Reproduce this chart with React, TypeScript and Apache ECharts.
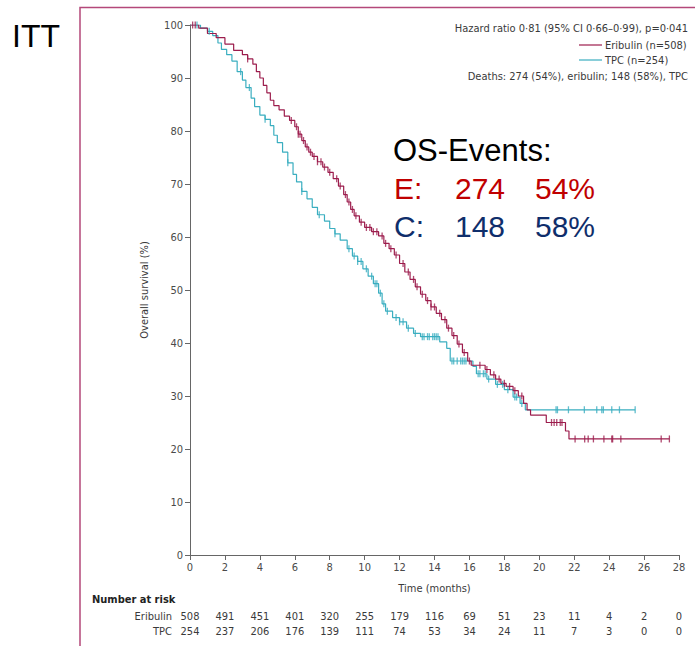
import React, { useEffect, useRef } from "react";
import * as echarts from "echarts";

// ---- Data ----
const monthTicks = [0, 2, 4, 6, 8, 10, 12, 14, 16, 18, 20, 22, 24, 26, 28];
const eribulinAtRisk = [508, 491, 451, 401, 320, 255, 179, 116, 69, 51, 23, 11, 4, 2, 0];
const tpcAtRisk = [254, 237, 206, 176, 139, 111, 74, 53, 34, 24, 11, 7, 3, 0, 0];

const eribulinTime = [0, 0.5, 1.0, 1.5, 2.0, 2.5, 3.0, 3.3, 3.6, 3.8, 4.0, 4.2, 4.4, 4.6, 4.8, 5.1, 5.4, 5.7, 6.0, 6.2, 6.4, 6.6, 6.8, 7.0, 7.3, 7.6, 7.9, 8.2, 8.5, 8.8, 9.0, 9.2, 9.4, 9.7, 10.0, 10.4, 10.8, 11.1, 11.4, 11.7, 12.0, 12.3, 12.6, 12.9, 13.2, 13.5, 13.8, 14.1, 14.4, 14.7, 15.0, 15.3, 15.6, 15.9, 16.1, 16.9, 17.2, 17.5, 17.8, 18.1, 18.5, 18.8, 19.1, 19.3, 19.5, 20.4, 21.5, 21.7, 27.45];
const eribulinSurv = [100, 99.4, 98.4, 97.6, 96.4, 95.2, 94.4, 93.6, 92.6, 91.2, 90.0, 88.6, 87.2, 85.8, 84.8, 84.0, 82.8, 82.0, 80.8, 79.4, 78.2, 77.0, 76.0, 75.2, 74.2, 73.2, 72.2, 71.0, 69.6, 68.0, 66.6, 65.2, 64.0, 62.8, 61.8, 61.0, 60.2, 58.8, 57.8, 56.6, 55.0, 53.4, 52.0, 50.6, 49.2, 48.0, 46.8, 45.6, 44.4, 42.8, 41.4, 39.8, 38.2, 36.6, 35.8, 35.0, 34.0, 33.2, 32.4, 31.8, 31.0, 30.0, 28.6, 27.4, 26.4, 25.0, 23.4, 21.9, 21.9];
const eribulinCensor = [0.15, 0.3, 3.3, 5.8, 6.1, 6.2, 6.3, 6.5, 6.7, 6.9, 7.1, 7.3, 7.5, 7.7, 8.0, 8.4, 8.6, 8.9, 9.1, 9.3, 9.5, 9.8, 10.1, 10.3, 10.5, 10.7, 11.0, 11.2, 11.5, 11.8, 12.2, 12.5, 12.8, 13.0, 13.3, 13.6, 13.8, 14.0, 14.3, 14.6, 14.8, 15.1, 15.4, 15.7, 16.0, 16.6, 17.0, 17.4, 17.7, 18.0, 18.3, 18.6, 19.0, 20.7, 20.85, 21.0, 21.2, 21.3, 22.05, 22.6, 22.8, 23.1, 23.7, 24.15, 24.2, 24.67, 26.98, 27.45];

const tpcTime = [0, 0.6, 1.0, 1.3, 1.6, 1.8, 2.1, 2.4, 2.7, 3.0, 3.2, 3.5, 3.7, 4.0, 4.3, 4.6, 4.8, 5.0, 5.3, 5.6, 5.9, 6.1, 6.4, 6.7, 7.0, 7.3, 7.7, 8.0, 8.3, 8.6, 9.0, 9.3, 9.6, 9.9, 10.2, 10.5, 10.8, 11.0, 11.2, 11.6, 12.0, 12.4, 12.8, 13.2, 14.3, 14.7, 14.9, 16.2, 16.4, 17.0, 17.5, 18.0, 18.5, 18.9, 19.2, 25.49];
const tpcSurv = [100, 99.4, 98.8, 98.0, 96.6, 95.4, 94.4, 93.2, 91.2, 89.6, 88.2, 86.2, 84.6, 83.0, 82.2, 81.0, 79.2, 77.8, 76.0, 74.0, 71.8, 70.4, 68.6, 67.2, 65.6, 64.2, 63.0, 61.6, 60.6, 59.4, 57.8, 56.4, 55.4, 54.0, 52.6, 51.2, 49.4, 47.4, 46.0, 44.8, 44.0, 42.8, 41.8, 41.2, 40.2, 39.0, 36.6, 35.6, 34.2, 33.2, 32.2, 31.2, 29.8, 28.6, 27.4, 27.4];
const tpcCensor = [0.4, 1.1, 2.9, 3.4, 4.3, 5.6, 6.4, 7.4, 8.3, 9.1, 9.4, 9.6, 9.8, 10.1, 10.4, 10.6, 10.7, 10.9, 11.1, 11.3, 11.8, 12.0, 12.2, 12.5, 12.9, 13.3, 13.4, 13.6, 13.7, 13.9, 14.0, 14.1, 14.2, 15.0, 15.1, 15.3, 15.5, 15.6, 15.7, 15.8, 16.5, 16.6, 16.8, 16.9, 17.1, 17.6, 17.9, 18.2, 18.6, 18.7, 19.0, 20.96, 21.04, 21.67, 22.58, 23.29, 23.58, 23.67, 24.15, 24.59, 25.49];

const ERI_COLOR = "#9c1c4c";
const TPC_COLOR = "#3aaec0";
const FONT = "'Liberation Sans Narrow', 'DejaVu Sans Condensed', 'Open Sans', sans-serif";
const BIG = "'Liberation Sans', Arial, sans-serif";

function stepValue(times: number[], surv: number[], t: number): number {
  let v = surv[0];
  for (let i = 0; i < times.length; i++) {
    if (times[i] <= t) v = surv[i];
    else break;
  }
  return v;
}

export default function App() {
  const ref = useRef<HTMLDivElement>(null);

  useEffect(() => {
    if (!ref.current) return;
    const chart = echarts.init(ref.current, undefined, { renderer: "svg" });

    const eriLine = eribulinTime.map((t, i) => [t, eribulinSurv[i]]);
    const tpcLine = tpcTime.map((t, i) => [t, tpcSurv[i]]);
    const eriCens = eribulinCensor.map((t) => [t, stepValue(eribulinTime, eribulinSurv, t)]);
    const tpcCens = tpcCensor.map((t) => [t, stepValue(tpcTime, tpcSurv, t)]);

    const small = { fontFamily: FONT, fontSize: 11, fill: "#3a3a3a" };

    chart.setOption({
      animation: false,
      backgroundColor: "#ffffff",
      grid: { left: 190, right: 16, top: 25, bottom: 91 },
      xAxis: [
        {
          type: "value",
          min: 0,
          max: 28,
          interval: 2,
          name: "Time (months)",
          nameLocation: "middle",
          nameGap: 28,
          nameTextStyle: { fontFamily: FONT, fontSize: 11, color: "#3a3a3a" },
          axisLine: { show: true, onZero: false, lineStyle: { color: "#666", width: 1 } },
          axisTick: { show: true, length: 5, lineStyle: { color: "#666" } },
          axisLabel: { fontFamily: FONT, fontSize: 11, color: "#4a4a4a", margin: 7 },
          splitLine: { show: false },
        },
        {
          type: "value",
          min: 0,
          max: 28,
          interval: 2,
          position: "bottom",
          offset: 46,
          axisLine: { show: false },
          axisTick: { show: false },
          splitLine: { show: false },
          axisLabel: {
            fontFamily: FONT,
            fontSize: 11,
            color: "#3a3a3a",
            margin: 8,
            lineHeight: 15,
            formatter: (v: number) => {
              const i = monthTicks.indexOf(v);
              return i < 0 ? "" : `${eribulinAtRisk[i]}\n${tpcAtRisk[i]}`;
            },
          },
        },
      ],
      yAxis: {
        type: "value",
        min: 0,
        max: 100,
        interval: 10,
        name: "Overall survival (%)",
        nameLocation: "middle",
        nameGap: 40,
        nameRotate: 90,
        nameTextStyle: { fontFamily: FONT, fontSize: 11, color: "#3a3a3a" },
        axisLine: { show: true, lineStyle: { color: "#666", width: 1 } },
        axisTick: { show: true, length: 5, lineStyle: { color: "#666" } },
        axisLabel: { fontFamily: FONT, fontSize: 11, color: "#4a4a4a", margin: 7 },
        splitLine: { show: false },
      },
      series: [
        {
          name: "TPC",
          type: "line",
          step: "end",
          data: tpcLine,
          showSymbol: false,
          lineStyle: { color: TPC_COLOR, width: 1.2 },
          itemStyle: { color: TPC_COLOR },
          z: 2,
        },
        {
          name: "Eribulin",
          type: "line",
          step: "end",
          data: eriLine,
          showSymbol: false,
          lineStyle: { color: ERI_COLOR, width: 1.2 },
          itemStyle: { color: ERI_COLOR },
          z: 3,
        },
        {
          name: "TPC censored",
          type: "scatter",
          data: tpcCens,
          symbol: "rect",
          symbolSize: [1.3, 7],
          itemStyle: { color: TPC_COLOR },
          z: 4,
        },
        {
          name: "Eribulin censored",
          type: "scatter",
          data: eriCens,
          symbol: "rect",
          symbolSize: [1.3, 7],
          itemStyle: { color: ERI_COLOR },
          z: 5,
        },
      ],
      graphic: [
        {
          type: "rect",
          shape: { x: 80, y: 7.5, width: 700, height: 700 },
          style: { fill: "none", stroke: "#b4487a", lineWidth: 1.5 },
          silent: true,
        },
        {
          type: "text",
          x: 12,
          y: 36,
          style: { text: "ITT", fontFamily: BIG, fontSize: 32, fill: "#000", verticalAlign: "middle" },
        },
        {
          type: "text",
          x: 688,
          y: 28,
          style: { ...small, text: "Hazard ratio 0·81 (95% CI 0·66–0·99), p=0·041", align: "right", verticalAlign: "middle" },
        },
        {
          type: "line",
          shape: { x1: 579, y1: 45, x2: 602, y2: 45 },
          style: { stroke: ERI_COLOR, lineWidth: 1.2 },
        },
        {
          type: "text",
          x: 605,
          y: 45,
          style: { ...small, text: "Eribulin (n=508)", align: "left", verticalAlign: "middle" },
        },
        {
          type: "line",
          shape: { x1: 579, y1: 60, x2: 602, y2: 60 },
          style: { stroke: TPC_COLOR, lineWidth: 1.2 },
        },
        {
          type: "text",
          x: 605,
          y: 60,
          style: { ...small, text: "TPC (n=254)", align: "left", verticalAlign: "middle" },
        },
        {
          type: "text",
          x: 688,
          y: 76,
          style: { ...small, text: "Deaths: 274 (54%), eribulin; 148 (58%), TPC", align: "right", verticalAlign: "middle" },
        },
        {
          type: "text",
          x: 393,
          y: 150,
          style: { text: "OS-Events:", fontFamily: BIG, fontSize: 31, fill: "#000", verticalAlign: "middle" },
        },
        { type: "text", x: 394, y: 188, style: { text: "E:", fontFamily: BIG, fontSize: 30, fill: "#c00000", verticalAlign: "middle" } },
        { type: "text", x: 455, y: 188, style: { text: "274", fontFamily: BIG, fontSize: 30, fill: "#c00000", verticalAlign: "middle" } },
        { type: "text", x: 535, y: 188, style: { text: "54%", fontFamily: BIG, fontSize: 30, fill: "#c00000", verticalAlign: "middle" } },
        { type: "text", x: 394, y: 226, style: { text: "C:", fontFamily: BIG, fontSize: 30, fill: "#0f2e6b", verticalAlign: "middle" } },
        { type: "text", x: 455, y: 226, style: { text: "148", fontFamily: BIG, fontSize: 30, fill: "#0f2e6b", verticalAlign: "middle" } },
        { type: "text", x: 535, y: 226, style: { text: "58%", fontFamily: BIG, fontSize: 30, fill: "#0f2e6b", verticalAlign: "middle" } },
        {
          type: "text",
          x: 92,
          y: 599,
          style: { text: "Number at risk", fontFamily: FONT, fontSize: 11, fontWeight: "bold", fill: "#222", verticalAlign: "middle" },
        },
        {
          type: "text",
          x: 172,
          y: 616,
          style: { ...small, text: "Eribulin", align: "right", verticalAlign: "middle" },
        },
        {
          type: "text",
          x: 172,
          y: 631,
          style: { ...small, text: "TPC", align: "right", verticalAlign: "middle" },
        },
      ],
    });

    return () => chart.dispose();
  }, []);

  return (
    <div
      ref={ref}
      style={{ position: "fixed", left: 0, top: 0, width: 695, height: 646, background: "#fff" }}
    />
  );
}
